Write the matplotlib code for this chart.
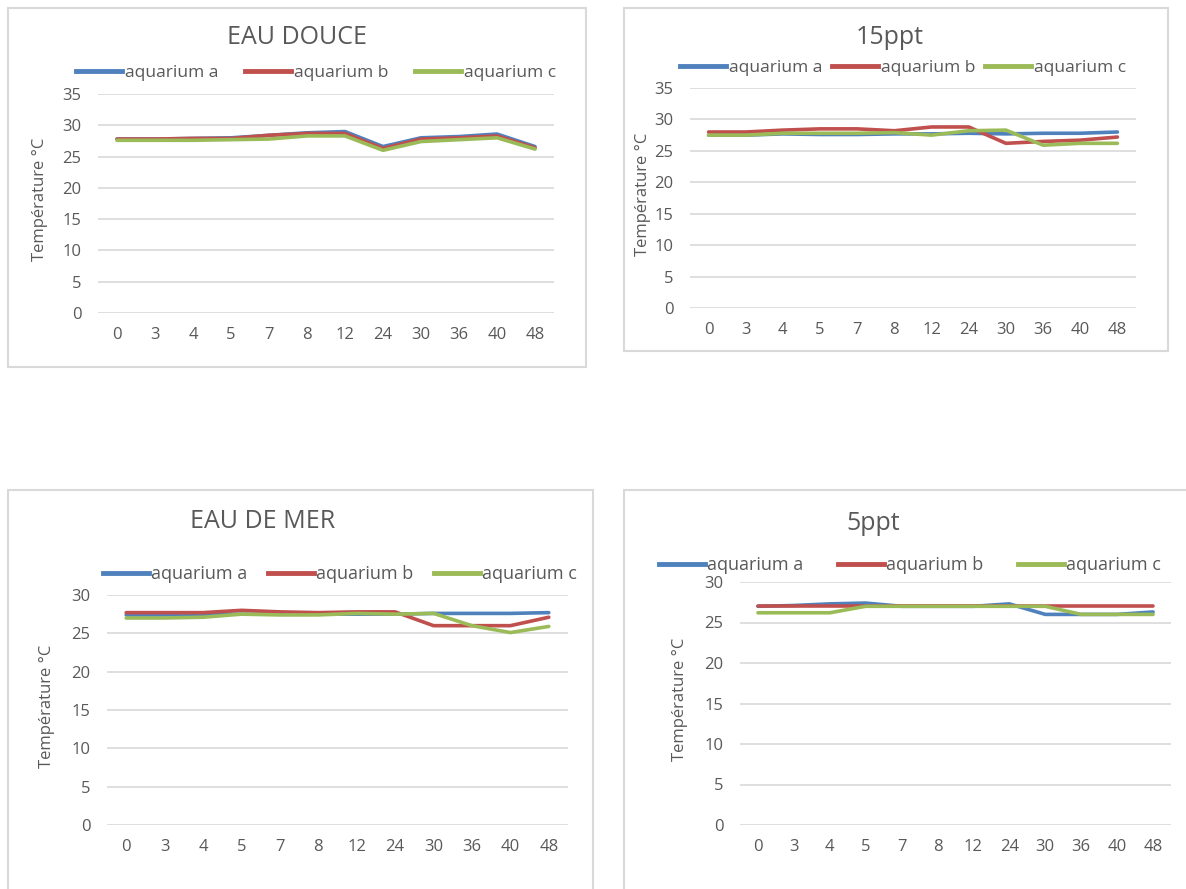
import matplotlib.pyplot as plt
from matplotlib.patches import Rectangle
from matplotlib.lines import Line2D

plt.rcParams['font.family'] = ['Open Sans', 'DejaVu Sans']

hours = ['0', '3', '4', '5', '7', '8', '12', '24', '30', '36', '40', '48']
series_names = ['aquarium a', 'aquarium b', 'aquarium c']

douce_a = [27.8, 27.8, 27.9, 28.0, 28.4, 28.8, 29.0, 26.6, 28.0, 28.2, 28.6, 26.6]
douce_b = [27.8, 27.8, 27.9, 27.9, 28.4, 28.7, 28.7, 26.3, 27.8, 28.0, 28.3, 26.4]
douce_c = [27.6, 27.6, 27.6, 27.7, 27.8, 28.3, 28.3, 26.0, 27.4, 27.7, 28.0, 26.2]

ppt15_a = [27.5, 27.5, 27.7, 27.6, 27.6, 27.7, 27.7, 27.8, 27.7, 27.8, 27.8, 28.0]
ppt15_b = [28.0, 28.0, 28.3, 28.5, 28.5, 28.2, 28.8, 28.8, 26.2, 26.5, 26.7, 27.2]
ppt15_c = [27.5, 27.5, 27.8, 27.8, 27.8, 27.9, 27.5, 28.2, 28.3, 25.9, 26.2, 26.2]

mer_a = [27.4, 27.4, 27.5, 27.5, 27.5, 27.5, 27.5, 27.5, 27.6, 27.6, 27.6, 27.7]
mer_b = [27.7, 27.7, 27.7, 28.0, 27.8, 27.7, 27.8, 27.8, 26.0, 26.0, 26.0, 27.1]
mer_c = [27.0, 27.0, 27.1, 27.5, 27.4, 27.4, 27.6, 27.5, 27.6, 26.0, 25.1, 25.9]

ppt5_a = [27.0, 27.1, 27.3, 27.4, 27.0, 27.0, 27.0, 27.3, 26.0, 26.0, 26.0, 26.3]
ppt5_b = [27.0, 27.0, 27.0, 27.0, 27.0, 27.0, 27.0, 27.0, 27.0, 27.0, 27.0, 27.0]
ppt5_c = [26.2, 26.2, 26.2, 27.0, 27.0, 27.0, 27.0, 27.0, 27.0, 26.0, 26.0, 26.0]

colors = ['#4F81BD', '#C0504D', '#9BBB59']
text_col = '#595959'
grid_col = '#D9D9D9'

W, H = 1186, 889
fig = plt.figure(figsize=(W / 100, H / 100), dpi=100)


def fx(px):
    return px / W


def fy(py):
    return 1 - py / H


def panel(box, area, title, title_pos, legend_y, legend_x, gap_px, ylab_x, ymax, data,
          fs=12.5):
    # cadre gris autour du graphique (zone de graphique Excel)
    bx0, by0, bx1, by1 = box
    fig.patches.append(Rectangle((fx(bx0), fy(by1)), fx(bx1 - bx0), (by1 - by0) / H,
                                 transform=fig.transFigure, fill=False,
                                 edgecolor=grid_col, linewidth=1.5))
    x0, y0, x1, y1 = area
    ax = fig.add_axes([fx(x0), fy(y1), fx(x1 - x0), (y1 - y0) / H])
    xs = range(len(hours))
    for vals, c in zip(data, colors):
        ax.plot(xs, vals, color=c, linewidth=2.6, solid_capstyle='round')
    ax.set_xlim(-0.5, len(hours) - 0.5)
    ax.set_ylim(0, ymax)
    ax.set_yticks(range(0, ymax + 1, 5))
    ax.set_xticks(list(xs))
    ax.set_xticklabels(hours)
    ax.yaxis.grid(True, color=grid_col, linewidth=1.2)
    ax.set_axisbelow(True)
    for s in ax.spines.values():
        s.set_visible(False)
    ax.tick_params(length=0, colors=text_col, labelsize=12)
    ax.tick_params(axis='x', pad=10)
    ax.tick_params(axis='y', pad=12)
    fig.text(fx(ylab_x), fy((y0 + y1) / 2 - 4), 'Température °C', rotation=90,
             ha='center', va='center', color=text_col, fontsize=12)
    fig.text(fx(title_pos[0]), fy(title_pos[1]), title, ha='center', va='center',
             color=text_col, fontsize=18)
    fs_px = fs * 100 / 72
    handles = [Line2D([], [], color=c, linewidth=3.5) for c in colors]
    leg = fig.legend(handles, series_names, loc='center', ncol=3,
                     bbox_to_anchor=(fx(legend_x), fy(legend_y)), frameon=False,
                     handlelength=46 / fs_px, handletextpad=0.15,
                     columnspacing=gap_px / fs_px, fontsize=fs, borderpad=0)
    for t in leg.get_texts():
        t.set_color(text_col)
    return ax


panel((8, 8, 586, 367), (98, 94, 554, 313), 'EAU DOUCE', (297, 38), 73, 316, 27, 40, 35,
      [douce_a, douce_b, douce_c])
panel((624, 8, 1168, 351), (690, 88, 1136, 308), '15ppt', (890, 38), 68, 903, 10, 643, 35,
      [ppt15_a, ppt15_b, ppt15_c])
panel((8, 490, 593, 900), (107, 595, 568, 825), 'EAU DE MER', (263, 522), 574, 340, 20, 47, 30,
      [mer_a, mer_b, mer_c], fs=13)
panel((624, 490, 1200, 900), (740, 582, 1171, 825), '5ppt', (873, 523), 565, 910, 34, 680, 30,
      [ppt5_a, ppt5_b, ppt5_c], fs=13)

fig.savefig('out.png', dpi=100)
